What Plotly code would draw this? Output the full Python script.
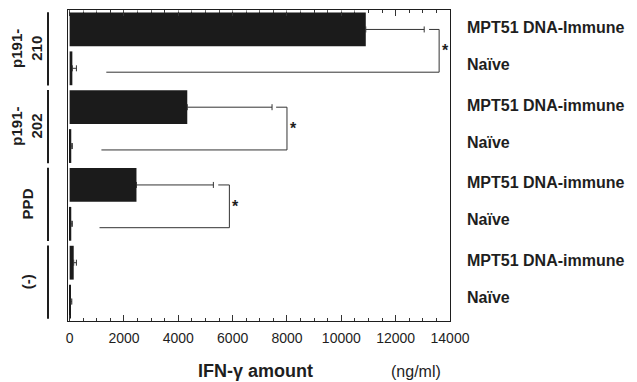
import plotly.graph_objects as go

# ---- data ----
groups = ["p191-<br>210", "p191-<br>202", "PPD", "(-)"]
row_labels = ["MPT51 DNA-Immune", "Naïve", "MPT51 DNA-immune", "Naïve",
              "MPT51 DNA-immune", "Naïve", "MPT51 DNA-immune", "Naïve"]
ifn_values = [10900, 100, 4330, 60, 2460, 60, 150, 50]
ifn_errors = [2150, 150, 3120, 40, 2830, 40, 100, 30]
# significance brackets
bracket_upper = [0, 2, 4]
bracket_lower = [1, 3, 5]
bracket_x = [13600, 8000, 5880]
bracket_top_start = [13230, 7600, 5470]
bracket_bottom_start = [1350, 1170, 1100]
x_ticks = [0, 2000, 4000, 6000, 8000, 10000, 12000, 14000]
x_tick_text = ["0", "2000", "4000", "6000", "8000", "10000", "12000", "14000"]

W, H = 637, 382
L, R, T, B = 68, 187, 10, 61
pw = W - L - R
ph = H - T - B

rows = list(range(len(ifn_values)))
FONT = "Liberation Sans"
INK = "#1e1e1e"

fig = go.Figure()
fig.add_trace(go.Bar(
    y=rows, x=ifn_values, orientation="h", width=0.87,
    marker=dict(color="#1b1b1b", line=dict(width=0)),
    error_x=dict(type="data", array=ifn_errors, arrayminus=[0]*len(ifn_errors),
                 symmetric=False, color="#333", thickness=1, width=3),
    showlegend=False,
))

shapes = []
annotations = []
for up, lo, bx, ts, bs in zip(bracket_upper, bracket_lower, bracket_x,
                              bracket_top_start, bracket_bottom_start):
    shapes.append(dict(type="line", x0=ts, x1=bx, y0=up, y1=up,
                       line=dict(color="#333", width=1)))
    shapes.append(dict(type="line", x0=bx, x1=bx, y0=up, y1=lo + 0.1,
                       line=dict(color="#333", width=1)))
    shapes.append(dict(type="line", x0=bs, x1=bx, y0=lo + 0.1, y1=lo + 0.1,
                       line=dict(color="#333", width=1)))
    annotations.append(dict(x=bx, y=(up + lo) / 2 + 0.05, text="<b>*</b>", showarrow=False,
                            xanchor="left", xshift=1,
                            font=dict(family=FONT, size=16, color=INK)))

# right-side row labels
for r, lab in zip(rows, row_labels):
    shift = -0.1 if lab.startswith("Na") else -0.05
    annotations.append(dict(x=(465 - L) / pw, xref="paper", y=r + shift, yref="y",
                            text="<b>" + lab + "</b>", showarrow=False, xanchor="left",
                            font=dict(family=FONT, size=16, color=INK)))

# left group labels with vertical lines
for gi, g in enumerate(groups):
    y0 = gi * 2 - 0.5
    y1 = gi * 2 + 1.5
    shapes.append(dict(type="line", xref="paper", yref="y",
                       x0=(48 - L) / pw, x1=(48 - L) / pw,
                       y0=y0 + 0.06, y1=y1 - 0.06,
                       line=dict(color=INK, width=2)))
    annotations.append(dict(x=(27 - L) / pw, xref="paper", y=gi * 2 + 0.5, yref="y",
                            text="<b>" + g + "</b>", showarrow=False, textangle=-90,
                            xanchor="center", yanchor="middle",
                            font=dict(family=FONT, size=15, color=INK)))

# dashed white line on top border over the first bar
shapes.append(dict(type="line", xref="x", yref="paper", x0=0, x1=ifn_values[0],
                   y0=0.997, y1=0.997, line=dict(color="white", width=1, dash="4px,2px")))

# axis titles
annotations.append(dict(x=(255 - L) / pw, y=(H - 371 - B) / ph, xref="paper", yref="paper",
                        text="<b>IFN-γ amount</b>", showarrow=False, xanchor="center",
                        yanchor="middle",
                        font=dict(family=FONT, size=18, color=INK)))
annotations.append(dict(x=(416 - L) / pw, y=(H - 371 - B) / ph, xref="paper", yref="paper",
                        text="(ng/ml)", showarrow=False, xanchor="center", yanchor="middle",
                        font=dict(family=FONT, size=16, color=INK)))

fig.update_layout(
    width=W, height=H,
    margin=dict(l=L, r=R, t=T, b=B),
    paper_bgcolor="white", plot_bgcolor="white",
    shapes=shapes, annotations=annotations,
    xaxis=dict(range=[-60, 14000], tickvals=x_ticks, ticktext=x_tick_text,
               ticks="inside", ticklen=6, ticklabelstandoff=4,
               tickcolor="#333", showline=True, linecolor=INK, linewidth=1,
               mirror="ticks", showgrid=False, zeroline=False,
               tickfont=dict(family=FONT, size=14, color=INK),
               minor=dict(dtick=500, ticks="inside", ticklen=3, tickcolor="#333",
                          showgrid=False)),
    yaxis=dict(range=[7.5, -0.5], showticklabels=False, ticks="", showgrid=False,
               zeroline=False, showline=True, linecolor=INK, linewidth=1, mirror=True),
)

fig.write_html("out.html")
